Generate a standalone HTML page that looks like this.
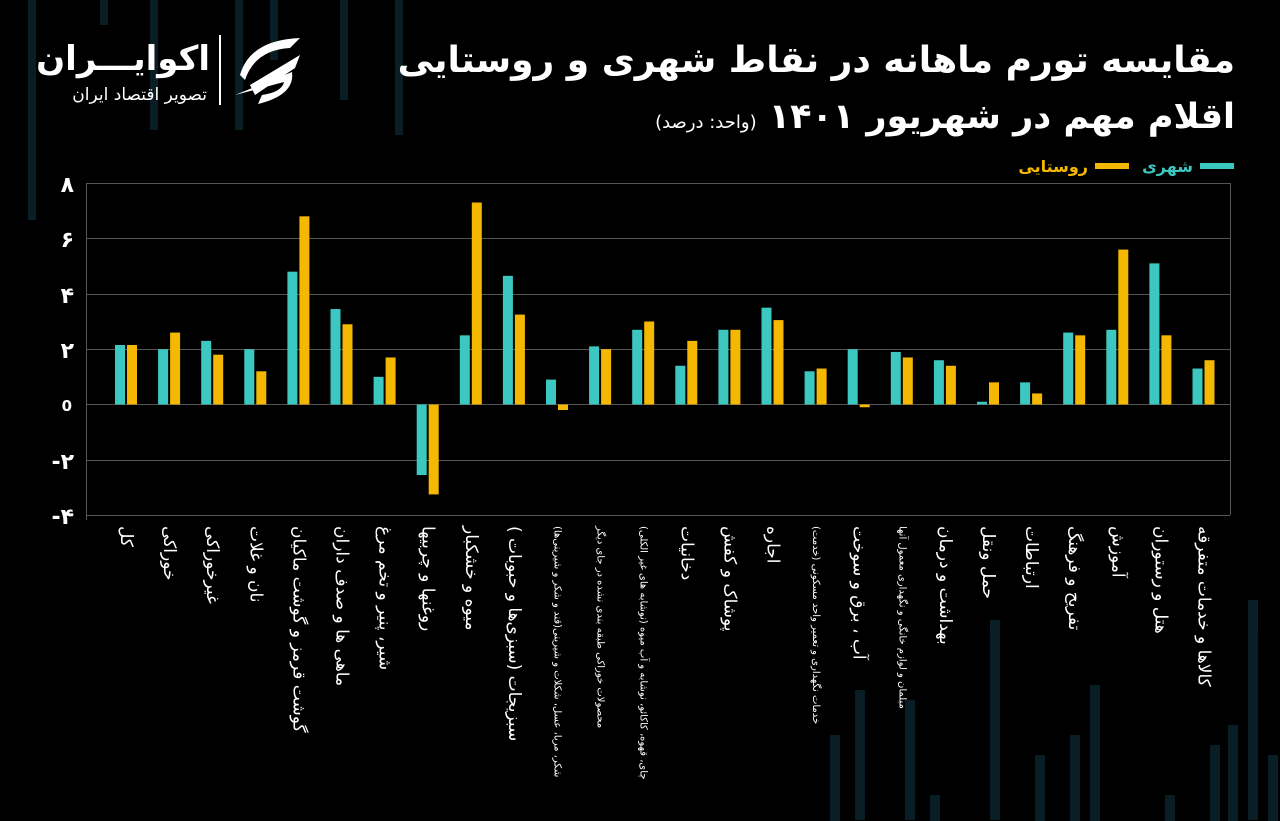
<!DOCTYPE html>
<html><head><meta charset="utf-8"><style>
body{margin:0;background:#000;width:1280px;height:821px;overflow:hidden;font-family:"Liberation Sans","DejaVu Sans",sans-serif;}
.lab{position:absolute;top:526px;writing-mode:vertical-rl;direction:rtl;color:#fff;font-size:17px;white-space:nowrap;line-height:22px;font-family:"DejaVu Sans",sans-serif;}
.sm{font-size:10px;line-height:13px}
</style></head><body>
<svg width="1280" height="821" style="position:absolute;left:0;top:0" font-family="DejaVu Sans, sans-serif">
<g fill="#0b2229" opacity="0.9">
<rect x="28" y="0" width="8" height="220"/><rect x="100" y="0" width="8" height="25"/><rect x="150" y="0" width="8" height="130"/><rect x="235" y="0" width="8" height="130"/><rect x="270" y="0" width="8" height="60"/><rect x="340" y="0" width="8" height="100"/><rect x="395" y="0" width="8" height="135"/>
<rect x="830" y="735" width="10" height="90"/><rect x="855" y="690" width="10" height="130"/><rect x="905" y="700" width="10" height="120"/><rect x="930" y="795" width="10" height="30"/><rect x="990" y="620" width="10" height="200"/><rect x="1035" y="755" width="10" height="70"/><rect x="1070" y="735" width="10" height="90"/><rect x="1090" y="685" width="10" height="140"/><rect x="1165" y="795" width="10" height="30"/><rect x="1210" y="745" width="10" height="80"/><rect x="1228" y="725" width="10" height="100"/><rect x="1248" y="600" width="10" height="220"/><rect x="1268" y="755" width="10" height="70"/>
</g>
<g stroke="#555" stroke-width="1">
<line x1="86" y1="183.5" x2="1230" y2="183.5"/><line x1="86" y1="238.5" x2="1230" y2="238.5"/><line x1="86" y1="294.5" x2="1230" y2="294.5"/><line x1="86" y1="349.5" x2="1230" y2="349.5"/><line x1="86" y1="404.5" x2="1230" y2="404.5"/><line x1="86" y1="460.5" x2="1230" y2="460.5"/><line x1="86" y1="515.5" x2="1230" y2="515.5"/><line x1="86.5" y1="183" x2="86.5" y2="520"/><line x1="1230.5" y1="183" x2="1230.5" y2="515"/>
</g>
<g fill="#fff" font-weight="bold" font-size="22" text-anchor="end">
<text x="74" y="192">۸</text><text x="74" y="247">۶</text><text x="74" y="303">۴</text><text x="74" y="358">۲</text><text x="72" y="411" font-size="15">0</text><text x="74" y="469">-۲</text><text x="74" y="524">-۴</text>
</g>
<g id="bars"></g>
<g fill="#fff" font-weight="bold" text-anchor="end">
<text x="1235" y="72" font-size="36">مقایسه تورم ماهانه در نقاط شهری و روستایی</text>
<text x="1235" y="128" font-size="35">اقلام مهم در شهریور ۱۴۰۱ <tspan font-size="18" font-weight="normal">(واحد: درصد)</tspan></text>
</g>
<rect x="1200" y="163" width="34" height="6" fill="#3cc8c0"/><text x="1193" y="172" fill="#3cc8c0" font-size="16" font-weight="bold" text-anchor="end">شهری</text>
<rect x="1095" y="163" width="34" height="6" fill="#f5b800"/><text x="1088" y="172" fill="#f5b800" font-size="16" font-weight="bold" text-anchor="end">روستایی</text>
<g fill="#fff"><text x="210" y="70" font-size="34" font-weight="bold" text-anchor="end">اکوایـــران</text>
<text x="207" y="100" font-size="17" text-anchor="end">تصویر اقتصاد ایران</text>
<rect x="219" y="35" width="2" height="70"/>
<path d="M240 75 Q250 40 300 38 L290 48 Q255 50 245 80Z M250 85 L300 55 L295 68 L255 95Z M235 95 L292 72 Q295 95 258 104 L262 95 Q282 92 284 82Z"/></g>
</svg>
<script>
var d=[[2.15,2.15],[2.0,2.6],[2.3,1.8],[2.0,1.2],[4.8,6.8],[3.45,2.9],[1.0,1.7],[-2.55,-3.25],[2.5,7.3],[4.65,3.25],[0.9,-0.2],[2.1,2.0],[2.7,3.0],[1.4,2.3],[2.7,2.7],[3.5,3.05],[1.2,1.3],[2.0,-0.1],[1.9,1.7],[1.6,1.4],[0.1,0.8],[0.8,0.4],[2.6,2.5],[2.7,5.6],[5.1,2.5],[1.3,1.6]];
var labs=["کل","خوراکی","غیرخوراکی","نان و غلات","گوشت قرمز و گوشت ماکیان","ماهی ها و صدف داران","شیر، پنیر و تخم مرغ","روغنها و چربیها","میوه و خشکبار","سبزیجات (سبزی‌ها و حبوبات )","شکر، مربا، عسل، شکلات و شیرینی(قند و شکر و شیرینی‌ها)","محصولات خوراکی طبقه بندی نشده در جای دیگر","چای، قهوه، کاکائو، نوشابه و آب میوه (نوشابه های غیر الکلی)","دخانیات","پوشاک و کفش","اجاره","خدمات نگهداری و تعمیر واحد مسکونی (خدمت)","آب ، برق و سوخت","مبلمان و لوازم خانگی و نگهداری معمول آنها","بهداشت و درمان","حمل ونقل","ارتباطات","تفریح و فرهنگ","آموزش","هتل و رستوران","کالاها و خدمات متفرقه"];
var small={10:1,11:1,12:1,16:1,18:1};
var s='',z=404.5,k=27.67,g=document.getElementById('bars');
d.forEach(function(v,i){var x=115+43.1*i;
[[v[0],x,'#3cc8c0'],[v[1],x+12,'#f5b800']].forEach(function(b){var h=b[0]*k;s+='<rect x="'+b[1]+'" y="'+(h>0?z-h:z)+'" width="10" height="'+Math.abs(h)+'" fill="'+b[2]+'"/>';});
var e=document.createElement('div');e.className='lab'+(small[i]?' sm':'');e.textContent=labs[i];e.style.left=(x+11-(small[i]?6.5:11))+'px';document.body.appendChild(e);});
g.innerHTML=s;
</script>
</body></html>
